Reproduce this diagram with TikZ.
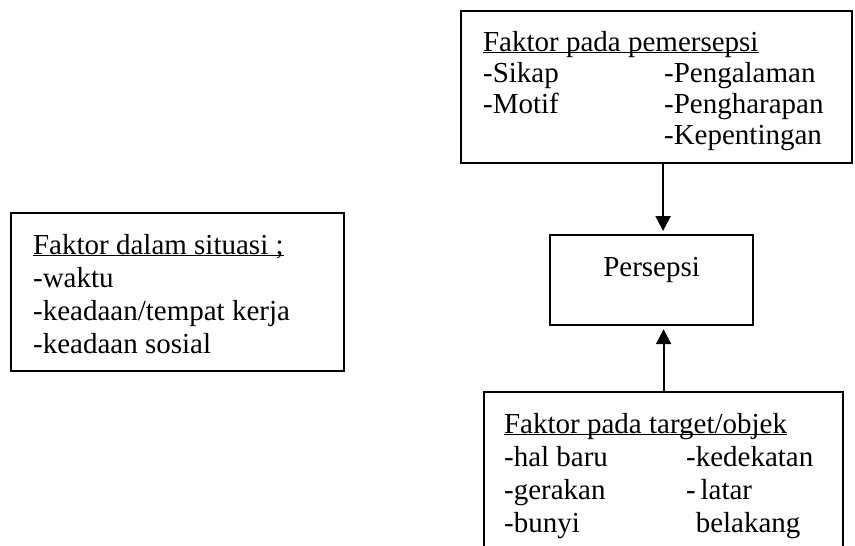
\documentclass[tikz,border=0pt]{standalone}
\usepackage{fontspec}
\setmainfont{Liberation Serif}
\usetikzlibrary{arrows.meta}
\newcommand{\judul}[1]{\underline{\smash{#1}}}

\begin{document}
\begin{tikzpicture}[x=1pt, y=-1pt,
    kotak/.style={draw, line width=2.2pt, anchor=north west, inner ysep=0pt,
      text height=41pt, font=\fontsize{29}{33}\selectfont},
    panah/.style={line width=2.2pt, -{Triangle[length=15pt, width=15pt]}, shorten >=3pt}]
    \useasboundingbox (0,0) rectangle (855,546);
    \clip (0,0) rectangle (855,546);
    % kotak-kotak faktor
    \node[kotak, inner xsep=22pt, text height=40pt, text depth=112pt,
      font=\fontsize{29}{31}\selectfont] (pemersepsi) at (460,10) {%
      \begin{tabular}[t]{@{}p{181pt}@{}p{166pt}@{}}
        \multicolumn{2}{@{}l@{}}{\judul{Faktor pada pemersepsi}}\\
        -Sikap & -Pengalaman\\
        -Motif & -Pengharapan\\
               & -Kepentingan
      \end{tabular}};
    \node[kotak, inner xsep=22pt, text depth=117pt] (situasi) at (10,212) {%
      \begin{tabular}[t]{@{}p{289pt}@{}}
        \judul{Faktor dalam situasi ;}\\
        -waktu\\
        -keadaan/tempat kerja\\
        -keadaan sosial
      \end{tabular}};
    \node[kotak, inner xsep=20pt, text depth=160pt] (objek) at (483,391) {%
      \begin{tabular}[t]{@{}p{182pt}@{}p{137pt}@{}}
        \multicolumn{2}{@{}l@{}}{\judul{Faktor pada target/objek}}\\
        -hal baru & -kedekatan\\
        -gerakan  & -\,latar\\
        -bunyi    & \phantom{-}belakang
      \end{tabular}};
    % persepsi
    \node[kotak, minimum width=203pt, text depth=49pt] (persepsi) at (549,234) {Persepsi};

    % panah
    \draw[panah] ([xshift=6.5pt]pemersepsi.south) -- ([xshift=11.5pt]persepsi.north);
    \draw[panah] (objek.north) -- ([xshift=12pt]persepsi.south);
\end{tikzpicture}
\end{document}
